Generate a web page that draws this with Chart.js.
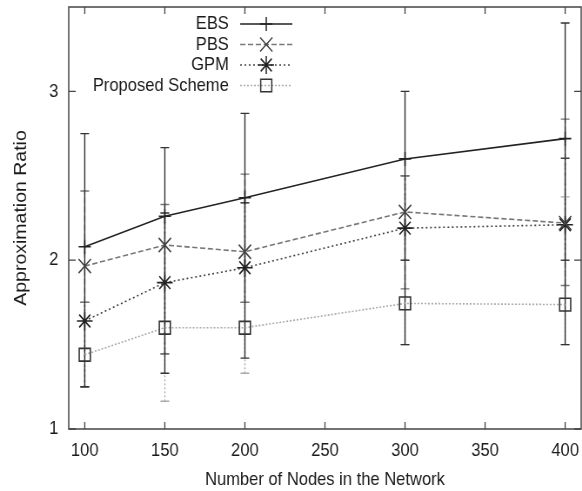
<!DOCTYPE html>
<html>
<head>
<meta charset="utf-8">
<script src="https://cdn.jsdelivr.net/npm/chart.js@4.4.1/dist/chart.umd.min.js"></script>
<style>
  html, body { margin: 0; padding: 0; background: #fff; overflow: hidden; }
  /* the source figure is a little squeezed sideways, so draw wide and squeeze */
  #wrap { position: absolute; left: 0; top: 0; width: 669px; height: 491px;
          transform: scaleX(0.87); transform-origin: 0 0; }
</style>
</head>
<body>
<div id="wrap"><canvas id="chart"></canvas></div>
<script>
const nodes = [100, 150, 200, 300, 400];
const xTicks = [100, 150, 200, 250, 300, 350, 400];
const yTicks = [1, 2, 3];
const names = ['EBS', 'PBS', 'GPM', 'Proposed Scheme'];

const ebs      = [2.08, 2.26, 2.37, 2.60, 2.72];
const pbs      = [1.965, 2.09, 2.05, 2.286, 2.22];
const gpm      = [1.64, 1.867, 1.955, 2.19, 2.21];
const proposed = [1.44, 1.60, 1.60, 1.744, 1.737];

// error bars, [low, high] per node count
const ebsErr      = [[1.25, 2.75], [1.33, 2.667], [1.42, 2.87], [1.5, 3.0], [1.5, 3.405]];
const pbsErr      = [[1.75, 2.41], [1.445, 2.33], [1.75, 2.51], [1.83, 2.5], [1.85, 2.836]];
const gpmErr      = [[1.25, 1.75], [1.445, 2.28], [1.75, 2.34], [2.0, 2.5], [2.0, 2.604]];
const proposedErr = [[1.25, 1.75], [1.164, 2.28], [1.33, 2.34], [1.5, 2.0], [1.5, 2.375]];

const FONT = "'Liberation Sans', Arial, Helvetica, sans-serif";
const TEXT = '#1a1a1a';

const styles = [
  { line: '#222', dash: [],     mark: '#222', shape: 'cross',    r: 7 },
  { line: '#777', dash: [6, 3], mark: '#444', shape: 'crossRot', r: 10 },
  { line: '#444', dash: [2, 3], mark: '#222', shape: 'star',     r: 9 },
  { line: '#aaa', dash: [2, 2], mark: '#333', shape: 'rect',     r: 9 }
];
const series = [ebs, pbs, gpm, proposed];
const errors = [ebsErr, pbsErr, gpmErr, proposedErr];

function marker(ctx, shape, x, y, r) {
  ctx.beginPath();
  const d = r * Math.SQRT1_2;
  if (shape === 'cross' || shape === 'star') {
    ctx.moveTo(x - r, y); ctx.lineTo(x + r, y);
    ctx.moveTo(x, y - r); ctx.lineTo(x, y + r);
  }
  if (shape === 'crossRot' || shape === 'star') {
    ctx.moveTo(x - d, y - d); ctx.lineTo(x + d, y + d);
    ctx.moveTo(x - d, y + d); ctx.lineTo(x + d, y - d);
  }
  if (shape === 'rect') ctx.rect(x - d, y - d, 2 * d, 2 * d);
  ctx.stroke();
}

const gnuplotLook = {
  id: 'gnuplotLook',
  beforeDatasetsDraw(chart) {
    const { ctx, scales: { x, y } } = chart;
    ctx.save();
    // lightest first, EBS last so its solid bar sits on top
    for (let s = errors.length - 1; s >= 0; s--) {
      ctx.strokeStyle = s === 0 ? '#333' : styles[s].line;
      ctx.setLineDash(styles[s].dash);
      ctx.lineWidth = 1.4;
      errors[s].forEach((e, i) => {
        const px = x.getPixelForValue(nodes[i]);
        const lo = y.getPixelForValue(e[0]);
        const hi = y.getPixelForValue(e[1]);
        ctx.beginPath();
        ctx.moveTo(px, lo); ctx.lineTo(px, hi);
        ctx.stroke();
        ctx.setLineDash([]);
        ctx.beginPath();
        ctx.moveTo(px - 5, lo); ctx.lineTo(px + 5, lo);
        ctx.moveTo(px - 5, hi); ctx.lineTo(px + 5, hi);
        ctx.stroke();
        ctx.setLineDash(styles[s].dash);
      });
    }
    ctx.restore();
  },
  afterDraw(chart) {
    const { ctx, chartArea: a, scales: { x, y } } = chart;
    ctx.save();
    ctx.strokeStyle = '#444';
    ctx.lineWidth = 1.5;
    ctx.strokeRect(a.left, a.top, a.right - a.left, a.bottom - a.top);

    // inward ticks on all four sides
    ctx.lineWidth = 1.3;
    ctx.beginPath();
    xTicks.forEach(v => {
      const px = x.getPixelForValue(v);
      ctx.moveTo(px, a.bottom); ctx.lineTo(px, a.bottom - 7);
      ctx.moveTo(px, a.top);    ctx.lineTo(px, a.top + 7);
    });
    yTicks.forEach(v => {
      const py = y.getPixelForValue(v);
      ctx.moveTo(a.left, py);  ctx.lineTo(a.left + 8, py);
      ctx.moveTo(a.right, py); ctx.lineTo(a.right - 8, py);
    });
    ctx.stroke();

    // key, gnuplot style: text then sample
    ctx.font = '19px ' + FONT;
    ctx.textAlign = 'right';
    ctx.textBaseline = 'middle';
    names.forEach((n, i) => {
      const ry = 24 + i * 20.5;
      ctx.fillStyle = TEXT;
      ctx.fillText(n, 263, ry);
      ctx.strokeStyle = styles[i].line;
      ctx.lineWidth = 1.5;
      ctx.setLineDash(styles[i].dash);
      ctx.beginPath();
      ctx.moveTo(276, ry); ctx.lineTo(336, ry);
      ctx.stroke();
      ctx.setLineDash([]);
      ctx.strokeStyle = styles[i].mark;
      marker(ctx, styles[i].shape, 306, ry, styles[i].r);
    });
    ctx.restore();
  }
};

new Chart(document.getElementById('chart'), {
  type: 'line',
  data: {
    datasets: series.map((vals, s) => ({
      label: names[s],
      data: vals.map((v, i) => ({ x: nodes[i], y: v })),
      borderColor: styles[s].line,
      borderDash: styles[s].dash,
      borderWidth: 1.6,
      pointStyle: styles[s].shape,
      pointRadius: styles[s].r,
      pointBorderColor: styles[s].mark,
      pointBackgroundColor: 'rgba(0,0,0,0)',
      pointBorderWidth: 1.6,
      tension: 0,
      fill: false
    }))
  },
  options: {
    responsive: true,
    maintainAspectRatio: false,
    animation: false,
    devicePixelRatio: 1,
    layout: { autoPadding: false, padding: { top: 7, right: 1, left: 0, bottom: 0 } },
    plugins: { legend: { display: false }, tooltip: { enabled: false } },
    scales: {
      x: {
        type: 'linear',
        min: 90,
        max: 410,
        afterBuildTicks: s => { s.ticks = xTicks.map(v => ({ value: v })); },
        afterFit: s => { s.height = 62; s.paddingLeft = 0; s.paddingRight = 0; },
        grid: { display: false, drawTicks: false },
        border: { display: false },
        ticks: { padding: 10, color: TEXT, font: { family: FONT, size: 19 } },
        title: { display: true, text: 'Number of Nodes in the Network', color: TEXT,
                 padding: { top: 0, bottom: 0 }, font: { family: FONT, size: 19 } }
      },
      y: {
        min: 1,
        max: 3.5,
        afterBuildTicks: s => { s.ticks = yTicks.map(v => ({ value: v })); },
        afterFit: s => { s.width = 79; s.paddingTop = 0; s.paddingBottom = 0; },
        grid: { display: false, drawTicks: false },
        border: { display: false },
        ticks: { padding: 12, color: TEXT, font: { family: FONT, size: 19 } },
        title: { display: true, text: 'Approximation Ratio', color: TEXT,
                 padding: { top: 13, bottom: 0 }, font: { family: FONT, size: 19.5 } }
      }
    }
  },
  plugins: [gnuplotLook]
});
</script>
</body>
</html>
